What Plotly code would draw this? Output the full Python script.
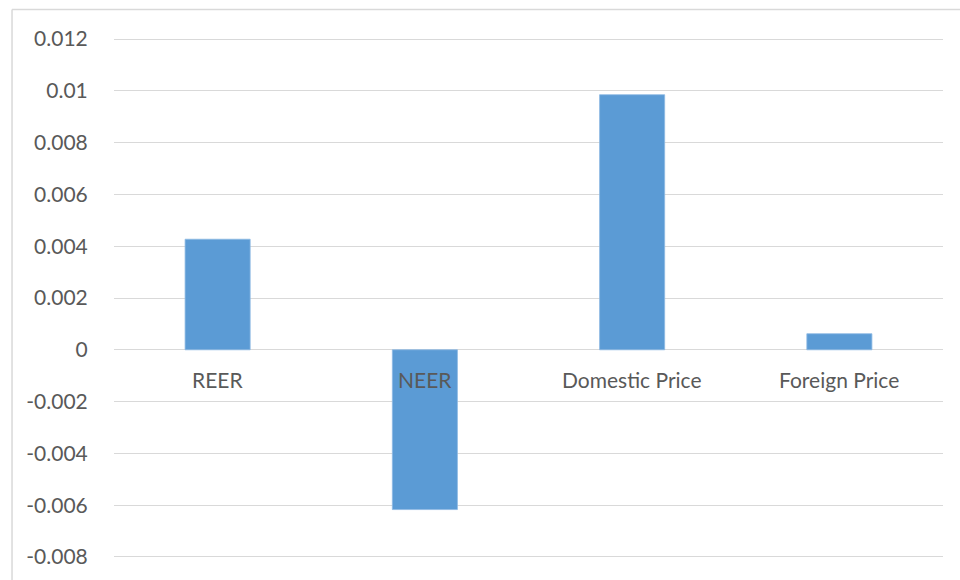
import plotly.graph_objects as go

categories = ["REER", "NEER", "Domestic Price", "Foreign Price"]
values = [0.00427, -0.00617, 0.00985, 0.00062]
tick_vals = [-0.008, -0.006, -0.004, -0.002, 0, 0.002, 0.004, 0.006, 0.008, 0.01, 0.012]
tick_text = ["-0.008", "-0.006", "-0.004", "-0.002", "0", "0.002", "0.004", "0.006", "0.008", "0.01", "0.012"]

FONT = "Lato"
TXT = "#595959"
GRID = "#D9D9D9"

fig = go.Figure()
fig.add_trace(go.Bar(
    x=categories, y=values,
    marker=dict(color="#5B9BD5", line=dict(color="#8DB9E3", width=0.8)),
))

annotations = [
    dict(x=c, y=0, xref="x", yref="y", text=c, showarrow=False,
         yshift=-30, yanchor="middle", xanchor="center",
         font=dict(family=FONT, size=21, color=TXT))
    for c in categories
]

fig.update_layout(
    width=960, height=580,
    margin=dict(l=114, r=17, t=38, b=22),
    paper_bgcolor="white", plot_bgcolor="white",
    showlegend=False,
    bargap=0.686,
    font=dict(family=FONT, size=21, color=TXT),
    annotations=annotations,
    shapes=[
        dict(type="line", xref="paper", yref="paper", x0=-0.123, x1=1.1, y0=1.055, y1=1.055,
             line=dict(color=GRID, width=1.5)),
        dict(type="line", xref="paper", yref="paper", x0=-0.123, x1=-0.123, y0=1.055, y1=-0.1,
             line=dict(color=GRID, width=1.5)),
    ],
)
fig.update_xaxes(showticklabels=False, showgrid=False, showline=False, zeroline=False,
                 range=[-0.5, 3.5])
fig.update_yaxes(range=[-0.00804, 0.01204], tickvals=tick_vals, ticktext=tick_text,
                 showgrid=True, gridcolor=GRID, gridwidth=1.3,
                 zeroline=True, zerolinecolor=GRID, zerolinewidth=1.3,
                 showline=False, ticks="outside", ticklen=21, tickcolor="rgba(0,0,0,0)",
                 tickfont=dict(family=FONT, size=21, color=TXT))

fig.write_html("out.html")
